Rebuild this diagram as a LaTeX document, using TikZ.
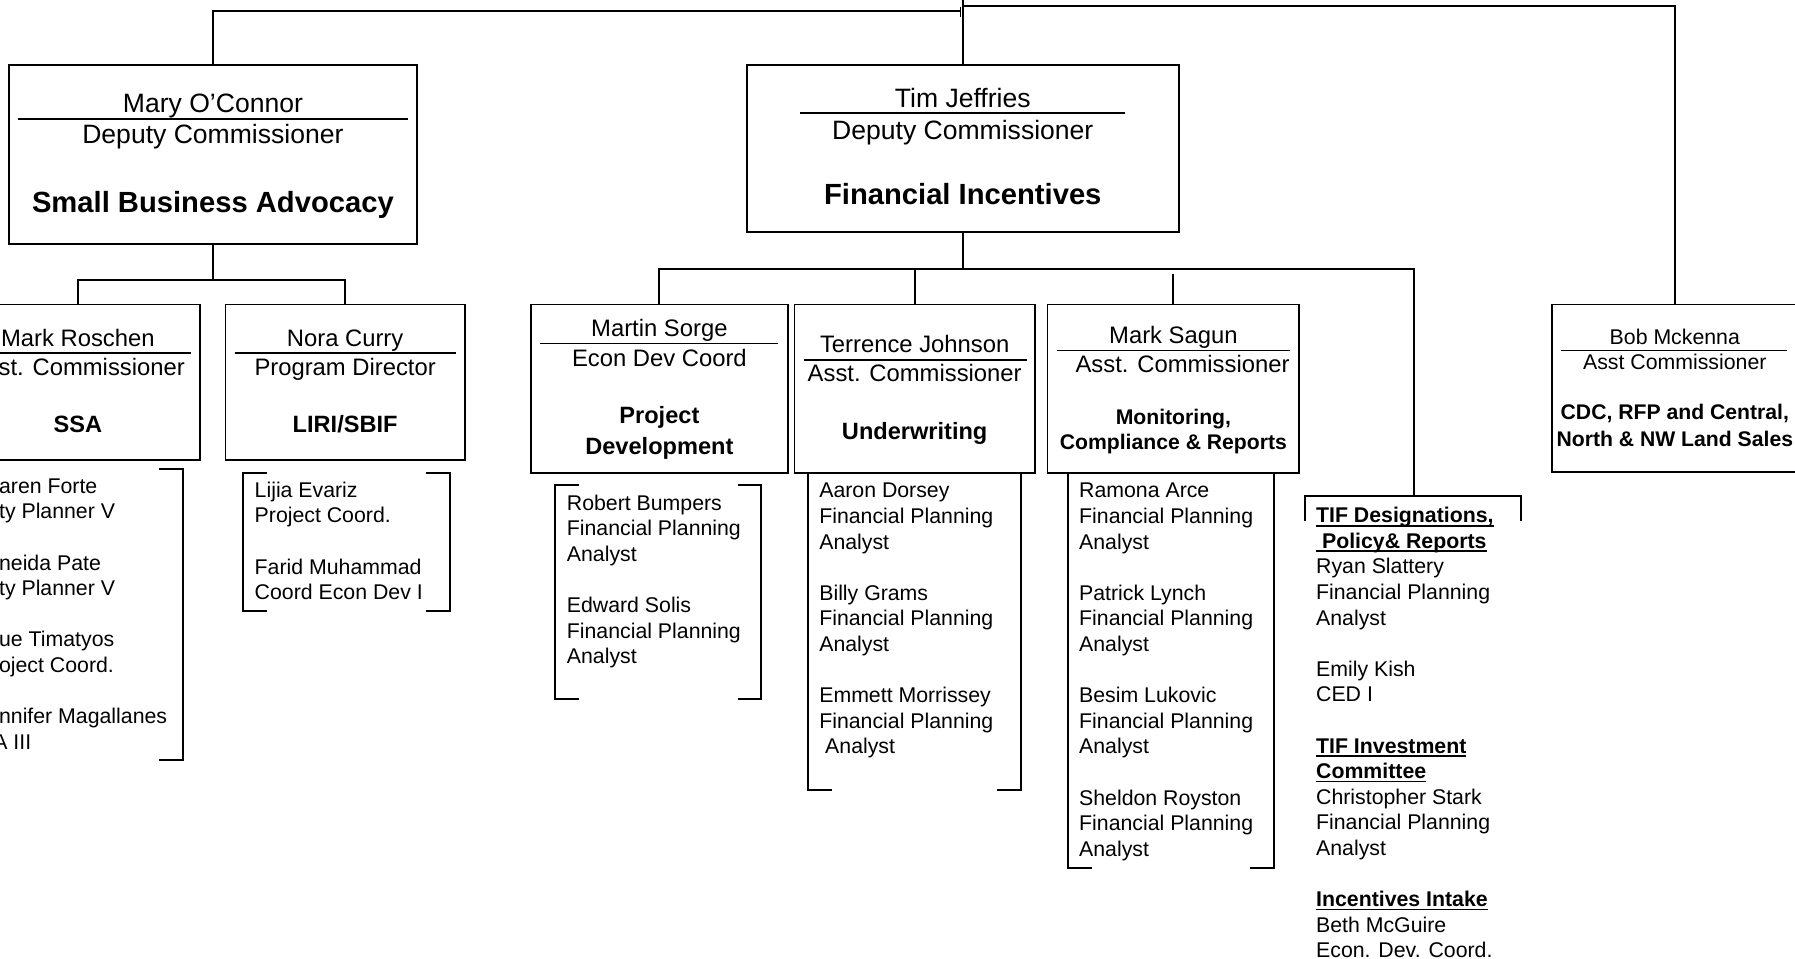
\documentclass[tikz,border=0pt]{standalone}
\usepackage{fontspec}
\setmainfont{Liberation Sans}
\usetikzlibrary{calc}

\newcommand\topfont{\fontsize{23.2}{27}\selectfont}
\newcommand\topdept{\fontsize{25.5}{30}\selectfont\bfseries}
\newcommand\unitfont{\fontsize{20.8}{25}\selectfont}
\newcommand\unitdept{\fontsize{20.6}{27}\selectfont\bfseries}
\newcommand\smalldept{\fontsize{18.5}{22}\selectfont\bfseries}
\newcommand\stafffont{\fontsize{18.6}{22.35}\selectfont}
\newsavebox\hdrbox
\newcommand\hdr[1]{\sbox\hdrbox{\bfseries #1}\rlap{\rule[-3.3pt]{\wd\hdrbox}{1.5pt}}\usebox\hdrbox}

\tikzset{
    unitbox/.style={draw, line width=1.7pt, inner sep=0pt},
    lbl/.style={anchor=base, inner sep=0pt},
    staff/.style={anchor=base west, inner sep=0pt, font=\stafffont},
    link/.style={line width=1.7pt},
    nameline/.style={line width=1.3pt},
}

\begin{document}
\begin{tikzpicture}[x=1pt, y=-1pt]
    \useasboundingbox (0,0) rectangle (1568,837);
    \clip (0,0) rectangle (1568,837);

    % top level
    \node[unitbox, minimum width=356pt, minimum height=156pt] (mary) at (186,135) {};
    \node[unitbox, minimum width=377pt, minimum height=146pt] (tim) at (841,130) {};
    \node[unitbox, minimum width=214pt, minimum height=146pt] (bob) at (1463,339) {};

    \node[lbl, font=\topfont] (maryname) at (186,98) {Mary O’Connor};
    \node[lbl, font=\topfont] (marytitle) at (186,125.7) {Deputy Commissioner};
    \node[lbl, font=\topdept] (marydept) at (186,186) {Small Business Advocacy};
    \draw[nameline] (16,104) -- (356,104);

    \node[lbl, font=\topfont] (timname) at (841,94) {Tim Jeffries};
    \node[lbl, font=\topfont] (timtitle) at (841,122) {Deputy Commissioner};
    \node[lbl, font=\topdept] (timdept) at (841,179) {Financial Incentives};
    \draw[nameline] (699,98.5) -- (983,98.5);

    \node[lbl, font=\stafffont] (bobname) at (1463,300.5) {Bob Mckenna};
    \node[lbl, font=\stafffont] (bobtitle) at (1463,323.2) {Asst Commissioner};
    \node[lbl, font=\smalldept] (bobdepta) at (1463,366.5) {CDC, RFP and Central,};
    \node[lbl, font=\smalldept] (bobdeptb) at (1463,389.6) {North \& NW Land Sales};
    \draw[nameline] (1364,306) -- (1561,306);

    % units
    \node[unitbox, minimum width=214pt, minimum height=136pt] (roschen) at (68,334) {};
    \node[unitbox, minimum width=209pt, minimum height=136pt] (nora) at (301.5,334) {};
    \node[unitbox, minimum width=224pt, minimum height=147pt] (sorge) at (576,339.5) {};
    \node[unitbox, minimum width=210pt, minimum height=147pt] (johnson) at (799,339.5) {};
    \node[unitbox, minimum width=220pt, minimum height=147pt] (sagun) at (1025,339.5) {};

    \node[lbl, font=\unitfont] (roschenname) at (68,303) {Mark Roschen};
    \node[lbl, font=\unitfont] (roschentitle) at (68,328) {Asst. Commissioner};
    \node[lbl, font=\unitdept] (roschendept) at (68,378) {SSA};
    \draw[nameline] (-31,308.5) -- (167,308.5);

    \node[lbl, font=\unitfont] (noraname) at (301.5,303) {Nora Curry};
    \node[lbl, font=\unitfont] (noratitle) at (301.5,328) {Program Director};
    \node[lbl, font=\unitdept] (noradept) at (301.5,378) {LIRI/SBIF};
    \draw[nameline] (205,308.5) -- (398,308.5);

    \node[lbl, font=\unitfont] (sorgename) at (576,294) {Martin Sorge};
    \node[lbl, font=\unitfont] (sorgetitle) at (576,320) {Econ Dev Coord};
    \node[lbl, font=\unitdept] (sorgedepta) at (576,370) {Project};
    \node[lbl, font=\unitdept] (sorgedeptb) at (576,397) {Development};
    \draw[nameline] (472,300) -- (680,300);

    \node[lbl, font=\unitfont] (johnsonname) at (799,308) {Terrence Johnson};
    \node[lbl, font=\unitfont] (johnsontitle) at (799,333.5) {Asst. Commissioner};
    \node[lbl, font=\unitdept] (johnsondept) at (799,384) {Underwriting};
    \draw[nameline] (702,314.5) -- (897,314.5);

    \node[lbl, font=\unitfont] (sagunname) at (1025,300) {Mark Sagun};
    \node[lbl, font=\unitfont] (saguntitle) at (1033,325) {Asst. Commissioner};
    \node[lbl, font=\smalldept] (sagundepta) at (1025,371) {Monitoring,};
    \node[lbl, font=\smalldept] (sagundeptb) at (1025,393) {Compliance \& Reports};
    \draw[nameline] (923,306) -- (1127,306);

    % connectors
    \coordinate (ttop) at (841,0);
    \coordinate (jL) at (839,9.6);
    \coordinate (jR) at (841,5.5);
    \draw[link] (mary.north) |- (jL);
    \draw[link] (839,6) -- (839,14.5);
    \draw[link] (ttop) -- (tim.north);
    \draw[link] (jR) -| (bob.north);

    \coordinate (mjoin) at (186,245);
    \draw[link] (mary.south) -- (mjoin);
    \draw[link] (roschen.north) |- (mjoin) -| (nora.north);

    \coordinate (tjoin) at (841,235);
    \coordinate (tifjoin) at (1235,433);
    \coordinate (sagunjoin) at (1025,239);
    \draw[link] (tim.south) -- (tjoin);
    \draw[link] (sorge.north) |- (tjoin) -| (tifjoin);
    \draw[link] (johnson.north) -- (johnson.north |- tjoin);
    \draw[link] (sagunjoin) -- (sagun.north);

    % staff lists
    \node[staff] (ssastaff) at (-1,431) {\begin{tabular}[t]{@{}l@{}}
        aren Forte\\ty Planner V\\ \\neida Pate\\ty Planner V\\ \\
        ue Timatyos\\oject Coord.\\ \\nnifer Magallanes\\\hspace*{-5pt}A III\end{tabular}};
    \draw[link] (139,409.5) -- (160,409.5) -- (160,664) -- (139,664);

    \node[staff] (norastaff) at (222.3,434.5) {\begin{tabular}[t]{@{}l@{}}
        Lijia Evariz\\Project Coord.\\ \\Farid Muhammad\\Coord Econ Dev I\end{tabular}};
    \draw[link] (233,413) -| (212,534) -- (233,534);
    \draw[link] (372,413) -| (393,534) -- (372,534);

    \node[staff] (sorgestaff) at (495,445.7) {\begin{tabular}[t]{@{}l@{}}
        Robert Bumpers\\Financial Planning\\Analyst\\ \\
        Edward Solis\\Financial Planning\\Analyst\end{tabular}};
    \draw[link] (506,424) -| (485,611) -- (506,611);
    \draw[link] (645,424) -| (665,611) -- (645,611);

    \node[staff] (johnsonstaff) at (715.5,435) {\begin{tabular}[t]{@{}l@{}}
        Aaron Dorsey\\Financial Planning\\Analyst\\ \\
        Billy Grams\\Financial Planning\\Analyst\\ \\
        Emmett Morrissey\\Financial Planning\\\ Analyst\end{tabular}};
    \draw[link] (johnson.south -| 706,0) -- (706,690) -- (727,690);
    \draw[link] (johnson.south -| 892,0) -- (892,690) -- (871,690);

    \node[staff] (sagunstaff) at (942.5,435) {\begin{tabular}[t]{@{}l@{}}
        Ramona Arce\\Financial Planning\\Analyst\\ \\
        Patrick Lynch\\Financial Planning\\Analyst\\ \\
        Besim Lukovic\\Financial Planning\\Analyst\\ \\
        Sheldon Royston\\Financial Planning\\Analyst\end{tabular}};
    \draw[link] (sagun.south -| 933,0) -- (933,758) -- (954,758);
    \draw[link] (sagun.south -| 1113,0) -- (1113,758) -- (1092,758);

    \node[staff] (tifstaff) at (1149.5,456.7) {\begin{tabular}[t]{@{}l@{}}
        \hdr{TIF Designations,}\\\hdr{\ Policy\& Reports}\\
        Ryan Slattery\\Financial Planning\\Analyst\\ \\
        Emily Kish\\CED I\\ \\
        \hdr{TIF Investment}\\\hdr{Committee}\\
        Christopher Stark\\Financial Planning\\Analyst\\ \\
        \hdr{Incentives Intake}\\Beth McGuire\\Econ. Dev. Coord.\end{tabular}};
    \draw[link] (1140,455) -- (1140,433) -- (1329,433) -- (1329,455);

\end{tikzpicture}
\end{document}
